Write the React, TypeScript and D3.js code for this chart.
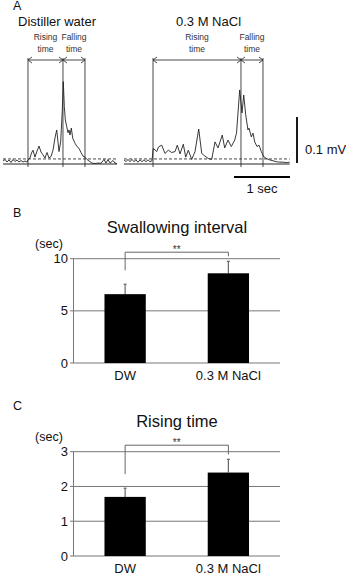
import React from "react";
import * as d3 from "d3";

const FONT = "'Liberation Sans', Arial, Helvetica, sans-serif";

// ---- panel A: EMG traces (time in s, amplitude in mV above baseline) ----
const dwTrace: [number, number][] = [
  [0, 0.0065], [0.036, 0.0098], [0.071, 0.0043], [0.107, 0.0087], [0.143, 0.0033],
  [0.179, 0.0098], [0.214, 0.0054], [0.25, 0.0087], [0.286, 0.0043], [0.321, 0.0076],
  [0.357, 0.0043], [0.393, 0.0065], [0.429, 0.0043], [0.446, 0.0087], [0.482, 0.013],
  [0.509, 0.024], [0.536, 0.03], [0.571, 0.015], [0.607, 0.028], [0.643, 0.039],
  [0.679, 0.026], [0.714, 0.02], [0.75, 0.013], [0.786, 0.025], [0.821, 0.013],
  [0.857, 0.016], [0.893, 0.03], [0.929, 0.057], [0.959, 0.074], [0.982, 0.048],
  [1.0, 0.027], [1.03, 0.048], [1.041, 0.074], [1.059, 0.117], [1.077, 0.179],
  [1.095, 0.125], [1.113, 0.096], [1.138, 0.081], [1.161, 0.068], [1.179, 0.074],
  [1.196, 0.063], [1.22, 0.078], [1.245, 0.056], [1.286, 0.045], [1.321, 0.038],
  [1.357, 0.034], [1.393, 0.025], [1.429, 0.017], [1.464, 0.015], [1.5, 0.0098],
  [1.536, 0.0065], [1.589, 0.002], [1.643, 0.001], [1.696, 0.002], [1.75, 0.0015],
  [1.804, 0.01], [1.839, 0.002], [1.875, 0.0098], [1.911, 0.002], [1.964, 0.0076],
  [2.0, 0.002], [2.036, 0.001],
];

const naclTrace: [number, number][] = [
  [0, 0.009], [0.036, 0.005], [0.071, 0.01], [0.107, 0.005], [0.143, 0.01],
  [0.179, 0.005], [0.214, 0.009], [0.25, 0.004], [0.286, 0.009], [0.321, 0.005],
  [0.357, 0.009], [0.393, 0.005], [0.429, 0.009], [0.464, 0.005], [0.5, 0.007],
  [0.523, 0.034], [0.584, 0.027], [0.616, 0.037], [0.673, 0.041], [0.732, 0.023],
  [0.791, 0.03], [0.852, 0.025], [0.911, 0.027], [0.952, 0.041], [1.0, 0.022],
  [1.059, 0.043], [1.102, 0.015], [1.148, 0.03], [1.209, 0.01], [1.268, 0.027],
  [1.334, 0.076], [1.388, 0.023], [1.446, 0.017], [1.505, 0.012], [1.566, 0.01],
  [1.625, 0.048], [1.679, 0.035], [1.755, 0.063], [1.798, 0.035], [1.857, 0.052],
  [1.916, 0.038], [1.977, 0.052], [2.009, 0.067], [2.066, 0.161], [2.107, 0.111],
  [2.138, 0.15], [2.173, 0.107], [2.214, 0.074], [2.232, 0.078], [2.273, 0.059],
  [2.304, 0.067], [2.334, 0.048], [2.375, 0.038], [2.411, 0.041], [2.452, 0.027],
  [2.495, 0.016], [2.541, 0.012], [2.602, 0.009], [2.661, 0.007], [2.72, 0.005],
  [2.78, 0.004], [2.839, 0.004], [2.898, 0.003], [2.959, 0.004],
];

// onset, peak, offset of each swallow (s)
const dwMarkers = [0.446, 1.071, 1.464];
const naclMarkers = [0.518, 2.089, 2.482];
const thresholdMv = 0.011;

// ---- panels B and C ----
const groups = ["DW", "0.3 M NaCl"];
const intervalMean = [6.6, 8.6];
const intervalSem = [0.95, 1.15];
const intervalTicks = [0, 5, 10];
const risingMean = [1.7, 2.4];
const risingSem = [0.25, 0.38];
const risingTicks = [0, 1, 2, 3];

const pxPerSec = 56;
const pxPerMv = 460;
const traceBaseY = 164;

function Arrow({ x1, x2, y }: { x1: number; x2: number; y: number }) {
  const h = 4;
  const v = 3;
  return (
    <g stroke="#333" strokeWidth={0.9} fill="none">
      <line x1={x1} x2={x2} y1={y} y2={y} />
      <path d={`M${x1 + h},${y - v}L${x1},${y}L${x1 + h},${y + v}`} />
      <path d={`M${x2 - h},${y - v}L${x2},${y}L${x2 - h},${y + v}`} />
    </g>
  );
}

function Trace({
  data,
  x0,
  markers,
}: {
  data: [number, number][];
  x0: number;
  markers: number[];
}) {
  const tMax = data[data.length - 1][0];
  const x = d3.scaleLinear().domain([0, 1]).range([x0, x0 + pxPerSec]);
  const y = d3.scaleLinear().domain([0, 0.1]).range([traceBaseY, traceBaseY - pxPerMv * 0.1]);
  const line = d3
    .line<[number, number]>()
    .x((d) => x(d[0]))
    .y((d) => y(d[1]));
  const [on, pk, off] = markers.map(x);
  const labelY = 39.5;
  return (
    <g>
      {markers.map((m, i) => (
        <line key={i} x1={x(m)} x2={x(m)} y1={58} y2={167} stroke="#333" strokeWidth={0.9} />
      ))}
      <Arrow x1={on} x2={pk} y={60} />
      <Arrow x1={pk} x2={off} y={60} />
      <g fontFamily={FONT} fontSize={8.5} fill="#333" textAnchor="middle">
        <text x={(on + pk) / 2} y={labelY}>Rising</text>
        <text x={(on + pk) / 2} y={labelY + 12}>time</text>
        <text x={(pk + off) / 2} y={labelY}>Falling</text>
        <text x={(pk + off) / 2} y={labelY + 12}>time</text>
      </g>
      <line x1={x(0)} x2={x(tMax)} y1={y(0)} y2={y(0)} stroke="#222" strokeWidth={1} />
      <line
        x1={x(0)}
        x2={x(tMax)}
        y1={y(thresholdMv)}
        y2={y(thresholdMv)}
        stroke="#333"
        strokeWidth={0.9}
        strokeDasharray="3,2"
      />
      <path d={line(data) ?? ""} fill="none" stroke="#222" strokeWidth={0.9} strokeLinejoin="round" />
    </g>
  );
}

type BarProps = {
  letter: string;
  letterY: number;
  title: string;
  titleY: number;
  top: number;
  bottom: number;
  means: number[];
  sems: number[];
  ticks: number[];
};

function BarPanel({ letter, letterY, title, titleY, top, bottom, means, sems, ticks }: BarProps) {
  const left = 73.5;
  const right = 280;
  const yMax = ticks[ticks.length - 1];
  const x = d3.scaleBand<string>().domain(groups).range([left, right]).paddingInner(0.6).paddingOuter(0.3);
  const y = d3.scaleLinear().domain([0, yMax]).range([bottom, top]);
  const cx = (g: string) => (x(g) ?? 0) + x.bandwidth() / 2;
  const bracketY = y(yMax) - 6.5;
  const errTop = means.map((m, i) => y(m + sems[i]));
  return (
    <g fontFamily={FONT}>
      <text x={13} y={letterY} fontSize={12.5} fill="#111">{letter}</text>
      <text x={177} y={titleY} fontSize={16.5} textAnchor="middle" fill="#111">{title}</text>
      <text x={49} y={top - 10.5} fontSize={12.5} textAnchor="middle" fill="#111">(sec)</text>
      {ticks.map((t) => (
        <g key={t}>
          <line x1={left - 3.5} x2={right} y1={y(t)} y2={y(t)} stroke="#777" strokeWidth={1} />
          <text x={68} y={y(t) + 4.6} fontSize={13} textAnchor="end" fill="#111">{t}</text>
        </g>
      ))}
      <line x1={left} x2={left} y1={top} y2={bottom} stroke="#777" strokeWidth={1} />
      {groups.map((g, i) => (
        <g key={g}>
          <line x1={cx(g)} x2={cx(g)} y1={y(means[i])} y2={errTop[i]} stroke="#666" strokeWidth={1.2} />
          <line x1={cx(g) - 1.5} x2={cx(g) + 1.5} y1={errTop[i]} y2={errTop[i]} stroke="#666" strokeWidth={1.2} />
          <rect
            x={x(g)}
            y={y(means[i])}
            width={x.bandwidth()}
            height={bottom - y(means[i])}
            fill="#000"
          />
          <text x={cx(g)} y={bottom + 17} fontSize={13} textAnchor="middle" fill="#111">{g}</text>
        </g>
      ))}
      <path
        d={`M${cx(groups[0])},${errTop[0] - 14}V${bracketY}H${cx(groups[1])}V${errTop[1] - 5}`}
        fill="none"
        stroke="#666"
        strokeWidth={1}
      />
      <text x={(cx(groups[0]) + cx(groups[1])) / 2} y={bracketY + 0.5} fontSize={10} textAnchor="middle" fill="#333">**</text>
    </g>
  );
}

export default function App() {
  const barY0 = traceBaseY;
  return (
    <svg
      width={346}
      height={575}
      style={{ position: "absolute", left: 0, top: 0, background: "#fff" }}
    >
      <rect width={346} height={575} fill="#fff" />
      <g fontFamily={FONT} fill="#111">
        <text x={13} y={9.5} fontSize={12.5}>A</text>
        <text x={18} y={25.5} fontSize={13}>Distiller water</text>
        <text x={176} y={25.5} fontSize={13}>0.3 M NaCl</text>
      </g>
      <Trace data={dwTrace} x0={3} markers={dwMarkers} />
      <Trace data={naclTrace} x0={124} markers={naclMarkers} />
      {/* scale bars: 0.1 mV and 1 s */}
      <line x1={297} x2={297} y1={barY0 - 1} y2={barY0 - 1 - pxPerMv * 0.1} stroke="#000" strokeWidth={1.8} />
      <text x={305} y={153.5} fontFamily={FONT} fontSize={13} fill="#111">0.1 mV</text>
      <line x1={290 - pxPerSec} x2={290} y1={177} y2={177} stroke="#000" strokeWidth={1.8} />
      <text x={262} y={193} fontFamily={FONT} fontSize={13} textAnchor="middle" fill="#111">1 sec</text>

      <BarPanel
        letter="B"
        letterY={217}
        title="Swallowing interval"
        titleY={233}
        top={258.7}
        bottom={363}
        means={intervalMean}
        sems={intervalSem}
        ticks={intervalTicks}
      />
      <BarPanel
        letter="C"
        letterY={410}
        title="Rising time"
        titleY={426.5}
        top={451.7}
        bottom={556}
        means={risingMean}
        sems={risingSem}
        ticks={risingTicks}
      />
    </svg>
  );
}
